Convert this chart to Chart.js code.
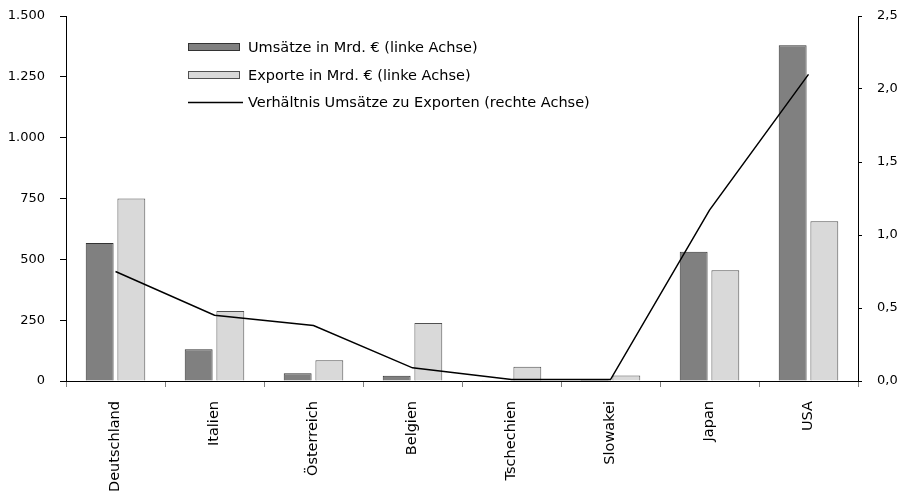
<!DOCTYPE html>
<html>
<head>
<meta charset="utf-8">
<script src="https://cdn.jsdelivr.net/npm/chart.js@4/dist/chart.umd.min.js"></script>
<style>
    html, body { margin: 0; padding: 0; background: #fff; }
    #wrap { width: 908px; height: 501px; }
</style>
</head>
<body>
<div id="wrap"><canvas id="chart"></canvas></div>
<script>
// Data
const countries = ['Deutschland', 'Italien', 'Österreich', 'Belgien', 'Tschechien', 'Slowakei', 'Japan', 'USA'];
const revenue = [567, 130, 32, 22, 0.6, 0.3, 531, 1380];
const exportsEur = [750, 288, 85, 238, 59, 23, 455, 656];
const ratio = [0.75, 0.45, 0.38, 0.09, 0.01, 0.01, 1.17, 2.1];

const leftTicks = [0, 250, 500, 750, 1000, 1250, 1500];
const rightTicks = [0, 0.5, 1, 1.5, 2, 2.5];

const fontFamily = '"DejaVu Sans", sans-serif';

function formatLeft(v) {
    return v.toLocaleString('de-DE');
}

function formatRight(v) {
    return v.toFixed(1).replace('.', ',');
}

// Legend drawn inside the plot area
const innerLegend = {
    id: 'innerLegend',
    afterDraw(chart) {
        const ctx = chart.ctx;
        const x0 = 188;
        const rows = [47, 75, 102];
        ctx.save();
        ctx.font = '14.5px ' + fontFamily;
        ctx.textBaseline = 'middle';
        chart.data.datasets.forEach((ds, i) => {
            const y = rows[i];
            if (ds.type === 'line') {
                ctx.strokeStyle = ds.borderColor;
                ctx.lineWidth = 1.5;
                ctx.beginPath();
                ctx.moveTo(x0, y + 0.5);
                ctx.lineTo(x0 + 55, y + 0.5);
                ctx.stroke();
            } else {
                ctx.fillStyle = ds.backgroundColor;
                ctx.fillRect(x0, y - 4, 52, 8);
                ctx.strokeStyle = ds.borderColor;
                ctx.lineWidth = 1;
                ctx.strokeRect(x0 + 0.5, y - 3.5, 51, 7);
            }
            ctx.fillStyle = '#000';
            ctx.fillText(ds.label, x0 + 60, y + 1);
        });
        ctx.restore();
    }
};

const ctx = document.getElementById('chart').getContext('2d');

new Chart(ctx, {
    data: {
        labels: countries,
        datasets: [
            {
                type: 'bar',
                label: 'Umsätze in Mrd. € (linke Achse)',
                data: revenue,
                backgroundColor: '#808080',
                borderColor: '#333333',
                borderWidth: 1,
                yAxisID: 'y',
                categoryPercentage: 0.64,
                barPercentage: 0.88,
                order: 2
            },
            {
                type: 'bar',
                label: 'Exporte in Mrd. € (linke Achse)',
                data: exportsEur,
                backgroundColor: '#d9d9d9',
                borderColor: '#505050',
                borderWidth: 1,
                yAxisID: 'y',
                categoryPercentage: 0.64,
                barPercentage: 0.88,
                order: 2
            },
            {
                type: 'line',
                label: 'Verhältnis Umsätze zu Exporten (rechte Achse)',
                data: ratio,
                borderColor: '#000000',
                borderWidth: 1.5,
                pointRadius: 0,
                tension: 0,
                fill: false,
                yAxisID: 'y1',
                order: 1
            }
        ]
    },
    options: {
        responsive: true,
        maintainAspectRatio: false,
        animation: false,
        layout: {
            padding: { top: 16, right: 0, bottom: 0, left: 0 }
        },
        plugins: {
            legend: { display: false },
            tooltip: { enabled: false }
        },
        scales: {
            x: {
                offset: true,
                grid: {
                    display: true,
                    offset: true,
                    drawOnChartArea: false,
                    drawTicks: true,
                    tickLength: 6,
                    color: '#808080'
                },
                border: { display: true, color: '#000', width: 1 },
                ticks: {
                    color: '#000',
                    font: { family: fontFamily, size: 14.5 },
                    minRotation: 90,
                    maxRotation: 90,
                    padding: 14,
                    autoSkip: false
                },
                afterFit(scale) {
                    scale.height = 120;
                    scale.paddingLeft = 0;
                    scale.paddingRight = 0;
                }
            },
            y: {
                position: 'left',
                min: 0,
                max: 1500,
                afterBuildTicks(scale) {
                    scale.ticks = leftTicks.map(v => ({ value: v }));
                },
                grid: {
                    drawOnChartArea: false,
                    drawTicks: true,
                    tickLength: 6,
                    color: '#000'
                },
                border: { display: true, color: '#000', width: 1 },
                ticks: {
                    color: '#000',
                    font: { family: fontFamily, size: 13 },
                    padding: 15,
                    callback: v => formatLeft(v)
                },
                afterFit(scale) {
                    scale.width = 66;
                    scale.paddingTop = 0;
                    scale.paddingBottom = 0;
                }
            },
            y1: {
                position: 'right',
                min: 0,
                max: 2.5,
                afterBuildTicks(scale) {
                    scale.ticks = rightTicks.map(v => ({ value: v }));
                },
                grid: {
                    drawOnChartArea: false,
                    drawTicks: true,
                    tickLength: 4,
                    color: '#000'
                },
                border: { display: true, color: '#000', width: 1 },
                ticks: {
                    color: '#000',
                    font: { family: fontFamily, size: 13 },
                    padding: 15,
                    callback: v => formatRight(v)
                },
                afterFit(scale) {
                    scale.width = 50;
                    scale.paddingTop = 0;
                    scale.paddingBottom = 0;
                }
            }
        }
    },
    plugins: [innerLegend]
});
</script>
</body>
</html>
